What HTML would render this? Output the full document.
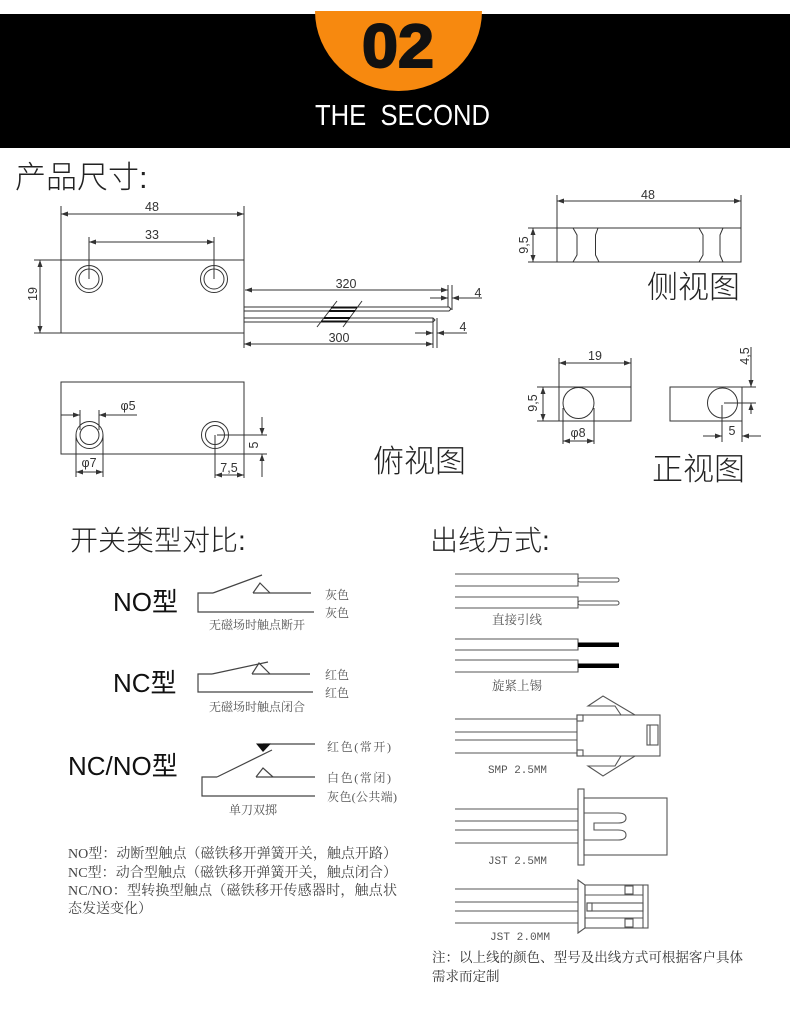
<!DOCTYPE html>
<html><head><meta charset="utf-8"><style>
html,body{margin:0;padding:0;background:#fff;}
svg{display:block;}
.d{font-family:"Liberation Sans",Arial,sans-serif;font-size:12.5px;fill:#333;}
.h{font-family:"Liberation Sans","Noto Sans CJK SC",sans-serif;font-weight:300;fill:#222;}
.s{font-family:"Liberation Serif","Noto Serif CJK SC",serif;fill:#555;}
.m{font-family:"Liberation Mono","Noto Serif CJK SC",monospace;fill:#555;}
</style></head><body>
<svg width="790" height="1010" viewBox="0 0 790 1010" xmlns="http://www.w3.org/2000/svg">
<defs>
<marker id="a" markerUnits="userSpaceOnUse" markerWidth="8" markerHeight="6" refX="7" refY="2.5" orient="auto-start-reverse"><path d="M0,0 L7,2.5 L0,5 Z" fill="#333"/></marker>
</defs>
<rect width="790" height="1010" fill="#fff"/>
<!-- header -->
<rect x="0" y="14" width="790" height="134" fill="#000"/>
<path d="M315,11 L482,11 A83.5,80 0 0 1 315,11 Z" fill="#F7890F"/>
<text x="398" y="67" text-anchor="middle" font-family="Liberation Sans,sans-serif" font-weight="bold" font-size="61" fill="#111" stroke="#111" stroke-width="2" textLength="72" lengthAdjust="spacingAndGlyphs">02</text>
<text x="315" y="125" font-family="Liberation Sans,sans-serif" font-size="29" fill="#fff" textLength="175" lengthAdjust="spacingAndGlyphs" xml:space="preserve">THE  SECOND</text>

<text x="15" y="188" class="h" font-size="31">产品尺寸:</text>

<!-- top-left main view -->
<g stroke="#333" stroke-width="1" fill="none">
<rect x="61" y="260" width="183" height="73"/>
<line x1="61" y1="206" x2="61" y2="260"/>
<line x1="244" y1="206" x2="244" y2="260"/>
<line x1="61" y1="214" x2="244" y2="214" marker-start="url(#a)" marker-end="url(#a)"/>
<line x1="89" y1="237" x2="89" y2="279"/>
<line x1="214" y1="237" x2="214" y2="279"/>
<line x1="89" y1="242" x2="214" y2="242" marker-start="url(#a)" marker-end="url(#a)"/>
<circle cx="89" cy="279" r="13.5"/><circle cx="89" cy="279" r="10"/>
<circle cx="214" cy="279" r="13.5"/><circle cx="214" cy="279" r="10"/>
<line x1="34" y1="260" x2="61" y2="260"/>
<line x1="34" y1="333" x2="61" y2="333"/>
<line x1="40" y1="260" x2="40" y2="333" marker-start="url(#a)" marker-end="url(#a)"/>
<path d="M244,307 H449 L451,309 L449,311 H244"/>
<path d="M244,318 H433 L435,320 L433,322 H244"/>
<line x1="317" y1="327" x2="337" y2="301"/>
<line x1="343" y1="327" x2="362" y2="301"/>
<line x1="245" y1="290" x2="448" y2="290" marker-start="url(#a)" marker-end="url(#a)"/>
<line x1="448" y1="285" x2="448" y2="307"/>
<line x1="452" y1="285" x2="452" y2="310"/>
<line x1="430" y1="298" x2="448" y2="298" marker-end="url(#a)"/>
<line x1="482" y1="298" x2="452" y2="298" marker-end="url(#a)"/>
<line x1="244" y1="333" x2="244" y2="348"/>
<line x1="433" y1="318" x2="433" y2="348"/>
<line x1="437" y1="318" x2="437" y2="348"/>
<line x1="244" y1="344" x2="433" y2="344" marker-start="url(#a)" marker-end="url(#a)"/>
<line x1="415" y1="333" x2="433" y2="333" marker-end="url(#a)"/>
<line x1="467" y1="333" x2="437" y2="333" marker-end="url(#a)"/>
</g>
<g stroke="#111" stroke-width="2">
<line x1="331" y1="307.5" x2="357" y2="307.5"/><line x1="329" y1="311" x2="355" y2="311"/>
<line x1="324" y1="318" x2="350" y2="318"/><line x1="321" y1="321.5" x2="347" y2="321.5"/>
</g>
<text class="d" x="152" y="211" text-anchor="middle">48</text>
<text class="d" x="152" y="239" text-anchor="middle">33</text>
<text class="d" transform="translate(37,294) rotate(-90)" text-anchor="middle">19</text>
<text class="d" x="346" y="288" text-anchor="middle">320</text>
<text class="d" x="339" y="342" text-anchor="middle">300</text>
<text class="d" x="478" y="297" text-anchor="middle">4</text>
<text class="d" x="463" y="331" text-anchor="middle">4</text>

<!-- bottom view -->
<g stroke="#333" stroke-width="1" fill="none">
<rect x="61" y="382" width="183" height="72"/>
<circle cx="89.5" cy="435" r="13.5"/><circle cx="89.5" cy="435" r="9.5"/>
<circle cx="215" cy="435" r="13.5"/><circle cx="215" cy="435" r="9.5"/>
<line x1="80" y1="410" x2="80" y2="430"/>
<line x1="99" y1="410" x2="99" y2="430"/>
<line x1="61" y1="415" x2="80" y2="415" marker-end="url(#a)"/>
<line x1="137" y1="415" x2="99" y2="415" marker-end="url(#a)"/>
<line x1="76" y1="435" x2="76" y2="477"/>
<line x1="103" y1="435" x2="103" y2="477"/>
<line x1="76" y1="472" x2="103" y2="472" marker-start="url(#a)" marker-end="url(#a)"/>
<line x1="215" y1="435" x2="215" y2="478"/>
<line x1="244" y1="454" x2="244" y2="478"/>
<line x1="215" y1="475" x2="244" y2="475" marker-start="url(#a)" marker-end="url(#a)"/>
<line x1="217" y1="435" x2="267" y2="435"/>
<line x1="244" y1="454" x2="267" y2="454"/>
<line x1="262" y1="417" x2="262" y2="435" marker-end="url(#a)"/>
<line x1="262" y1="477" x2="262" y2="454" marker-end="url(#a)"/>
</g>
<text class="d" x="128" y="410" text-anchor="middle">φ5</text>
<text class="d" x="89" y="467" text-anchor="middle">φ7</text>
<text class="d" x="229" y="472" text-anchor="middle">7,5</text>
<text class="d" transform="translate(258,445) rotate(-90)" text-anchor="middle">5</text>
<text class="h" x="373" y="472" font-size="31">俯视图</text>

<!-- side view -->
<g stroke="#333" stroke-width="1" fill="none">
<rect x="557" y="228" width="184" height="34"/>
<line x1="557" y1="195" x2="557" y2="228"/>
<line x1="741" y1="195" x2="741" y2="228"/>
<line x1="557" y1="201" x2="741" y2="201" marker-start="url(#a)" marker-end="url(#a)"/>
<line x1="528" y1="228" x2="557" y2="228"/>
<line x1="528" y1="262" x2="557" y2="262"/>
<line x1="533" y1="228" x2="533" y2="262" marker-start="url(#a)" marker-end="url(#a)"/>
<path d="M573,228 L577,235 L577,255 L573,262"/>
<path d="M598,228 L595.5,235 L595.5,255 L599,262"/>
<path d="M699,228 L703,235 L703,255 L699,262"/>
<path d="M723,228 L720,235 L720,255 L723,262"/>
</g>
<text class="d" x="648" y="199" text-anchor="middle">48</text>
<text class="d" transform="translate(528,245) rotate(-90)" text-anchor="middle">9,5</text>
<text class="h" x="647" y="298" font-size="31">侧视图</text>

<!-- front views -->
<g stroke="#333" stroke-width="1" fill="none">
<rect x="559" y="387" width="72" height="34"/>
<circle cx="578.5" cy="403" r="15.5"/>
<line x1="559" y1="358" x2="559" y2="387"/>
<line x1="631" y1="358" x2="631" y2="387"/>
<line x1="559" y1="363" x2="631" y2="363" marker-start="url(#a)" marker-end="url(#a)"/>
<line x1="537" y1="387" x2="559" y2="387"/>
<line x1="537" y1="421" x2="559" y2="421"/>
<line x1="543" y1="387" x2="543" y2="421" marker-start="url(#a)" marker-end="url(#a)"/>
<line x1="563" y1="408" x2="563" y2="444"/>
<line x1="594" y1="408" x2="594" y2="444"/>
<line x1="563" y1="441" x2="594" y2="441" marker-start="url(#a)" marker-end="url(#a)"/>
<rect x="670" y="387" width="72" height="34"/>
<circle cx="722.5" cy="403" r="15"/>
<line x1="724" y1="403" x2="756" y2="403"/>
<line x1="722" y1="405" x2="722" y2="442"/>
<line x1="742" y1="387" x2="756" y2="387"/>
<line x1="751" y1="347" x2="751" y2="387" marker-end="url(#a)"/>
<line x1="751" y1="414" x2="751" y2="403" marker-end="url(#a)"/>
<line x1="742" y1="421" x2="742" y2="442"/>
<line x1="703" y1="436" x2="722" y2="436" marker-end="url(#a)"/>
<line x1="761" y1="436" x2="742" y2="436" marker-end="url(#a)"/>
</g>
<text class="d" x="595" y="360" text-anchor="middle">19</text>
<text class="d" transform="translate(537,403) rotate(-90)" text-anchor="middle">9,5</text>
<text class="d" x="578" y="437" text-anchor="middle">φ8</text>
<text class="d" transform="translate(749,356) rotate(-90)" text-anchor="middle">4,5</text>
<text class="d" x="732" y="435" text-anchor="middle">5</text>
<text class="h" x="652" y="480" font-size="31">正视图</text>

<!-- switch types -->
<text x="70" y="550" class="h" font-size="28" fill="#333">开关类型对比:</text>
<g font-family="Liberation Sans,'Noto Sans CJK SC',sans-serif" font-size="26" fill="#111">
<text x="113" y="611">NO型</text>
<text x="113" y="692">NC型</text>
<text x="68" y="775">NC/NO型</text>
</g>
<g stroke="#444" stroke-width="1.2" fill="none">
<path d="M213,593 H198 V612 H314"/>
<path d="M213,593 L262,575"/>
<path d="M253,593 L260,583 L270,593"/>
<path d="M253,593 H311"/>
<path d="M212,674 H198 V692 H313"/>
<path d="M212,674 L268,662"/>
<path d="M252,674 L259,663 L270,674"/>
<path d="M252,674 H310"/>
<path d="M217,777 H202 V796 H315"/>
<path d="M217,777 L272,750"/>
<path d="M256,777 L263,768 L273,777"/>
<path d="M256,777 H315"/>
<path d="M263,744 H315"/>
</g>
<path d="M256,743.5 L271,743.5 L263,752 Z" fill="#111"/>
<g class="s" font-size="12">
<text x="325" y="599">灰色</text>
<text x="325" y="617">灰色</text>
<text x="257" y="629" text-anchor="middle">无磁场时触点断开</text>
<text x="325" y="679">红色</text>
<text x="325" y="697">红色</text>
<text x="257" y="711" text-anchor="middle">无磁场时触点闭合</text>
<text x="327" y="751" textLength="64" lengthAdjust="spacing">红色(常开)</text>
<text x="327" y="782" textLength="64" lengthAdjust="spacing">白色(常闭)</text>
<text x="327" y="801" textLength="70" lengthAdjust="spacing">灰色(公共端)</text>
<text x="253" y="814" text-anchor="middle">单刀双掷</text>
</g>
<g class="s" font-size="14" style="fill:#444">
<text x="68" y="858" textLength="329" lengthAdjust="spacing">NO型：动断型触点（磁铁移开弹簧开关，触点开路）</text>
<text x="68" y="877" textLength="329" lengthAdjust="spacing">NC型：动合型触点（磁铁移开弹簧开关，触点闭合）</text>
<text x="68" y="895" textLength="329" lengthAdjust="spacing">NC/NO：型转换型触点（磁铁移开传感器时，触点状</text>
<text x="68" y="913">态发送变化）</text>
</g>

<!-- wire types -->
<text x="430" y="550" class="h" font-size="28" fill="#333">出线方式:</text>
<g stroke="#555" stroke-width="1.1" fill="none">
<path d="M455,574 H578 V586 H455"/>
<rect x="578" y="578" width="41" height="4" rx="2" fill="#fff"/>
<path d="M455,597 H578 V608 H455"/>
<rect x="578" y="601" width="41" height="4" rx="2" fill="#fff"/>
<path d="M455,639 H578 V650 H455"/>
<path d="M455,660 H578 V672 H455"/>
</g>
<rect x="578" y="642.5" width="41" height="4.5" fill="#000"/>
<rect x="578" y="663.5" width="41" height="4.5" fill="#000"/>
<g class="s" font-size="12.5">
<text x="517" y="624" text-anchor="middle">直接引线</text>
<text x="517" y="690" text-anchor="middle">旋紧上锡</text>
</g>
<g stroke="#555" stroke-width="1.1" fill="none">
<line x1="455" y1="719" x2="577" y2="719"/>
<line x1="455" y1="732" x2="577" y2="732"/>
<line x1="455" y1="740" x2="577" y2="740"/>
<line x1="455" y1="753" x2="577" y2="753"/>
<rect x="577" y="715" width="83" height="41"/>
<rect x="577" y="715" width="6" height="6"/>
<rect x="577" y="750" width="6" height="6"/>
<rect x="647" y="725" width="11" height="20"/>
<line x1="650" y1="725" x2="650" y2="745"/>
<path d="M635,715 L603,696 L588,706 L615,706 L621,715"/>
<path d="M635,756 L603,776 L588,766 L615,766 L621,756"/>
<line x1="455" y1="809" x2="578" y2="809"/>
<line x1="455" y1="821" x2="578" y2="821"/>
<line x1="455" y1="830" x2="578" y2="830"/>
<line x1="455" y1="843" x2="578" y2="843"/>
<rect x="578" y="789" width="6" height="76"/>
<rect x="584" y="798" width="83" height="57"/>
<path d="M584,813 H618 Q626,813 626,818 Q626,823 618,823 H594 V830 H618 Q626,830 626,835 Q626,840 618,840 H584"/>
<line x1="455" y1="889" x2="578" y2="889"/>
<line x1="455" y1="902" x2="578" y2="902"/>
<line x1="455" y1="911" x2="578" y2="911"/>
<line x1="455" y1="923" x2="578" y2="923"/>
<path d="M578,880 L585,885 L585,928 L578,933 Z"/>
<rect x="585" y="885" width="63" height="43"/>
<line x1="643" y1="885" x2="643" y2="928"/>
<line x1="585" y1="895" x2="643" y2="895"/>
<line x1="585" y1="918" x2="643" y2="918"/>
<rect x="625" y="886" width="8" height="8"/>
<rect x="625" y="919" width="8" height="8"/>
<rect x="587" y="903" width="56" height="8"/>
<rect x="587" y="903" width="5" height="8"/>
</g>
<g class="m" font-size="11">
<text x="488" y="773" textLength="59" lengthAdjust="spacingAndGlyphs">SMP 2.5MM</text>
<text x="488" y="864" textLength="59" lengthAdjust="spacingAndGlyphs">JST 2.5MM</text>
<text x="490" y="940" textLength="60" lengthAdjust="spacingAndGlyphs">JST 2.0MM</text>
</g>
<g class="s" font-size="13.5" style="fill:#333">
<text x="432" y="962" textLength="311" lengthAdjust="spacing">注：以上线的颜色、型号及出线方式可根据客户具体</text>
<text x="432" y="981">需求而定制</text>
</g>
</svg>
</body></html>
